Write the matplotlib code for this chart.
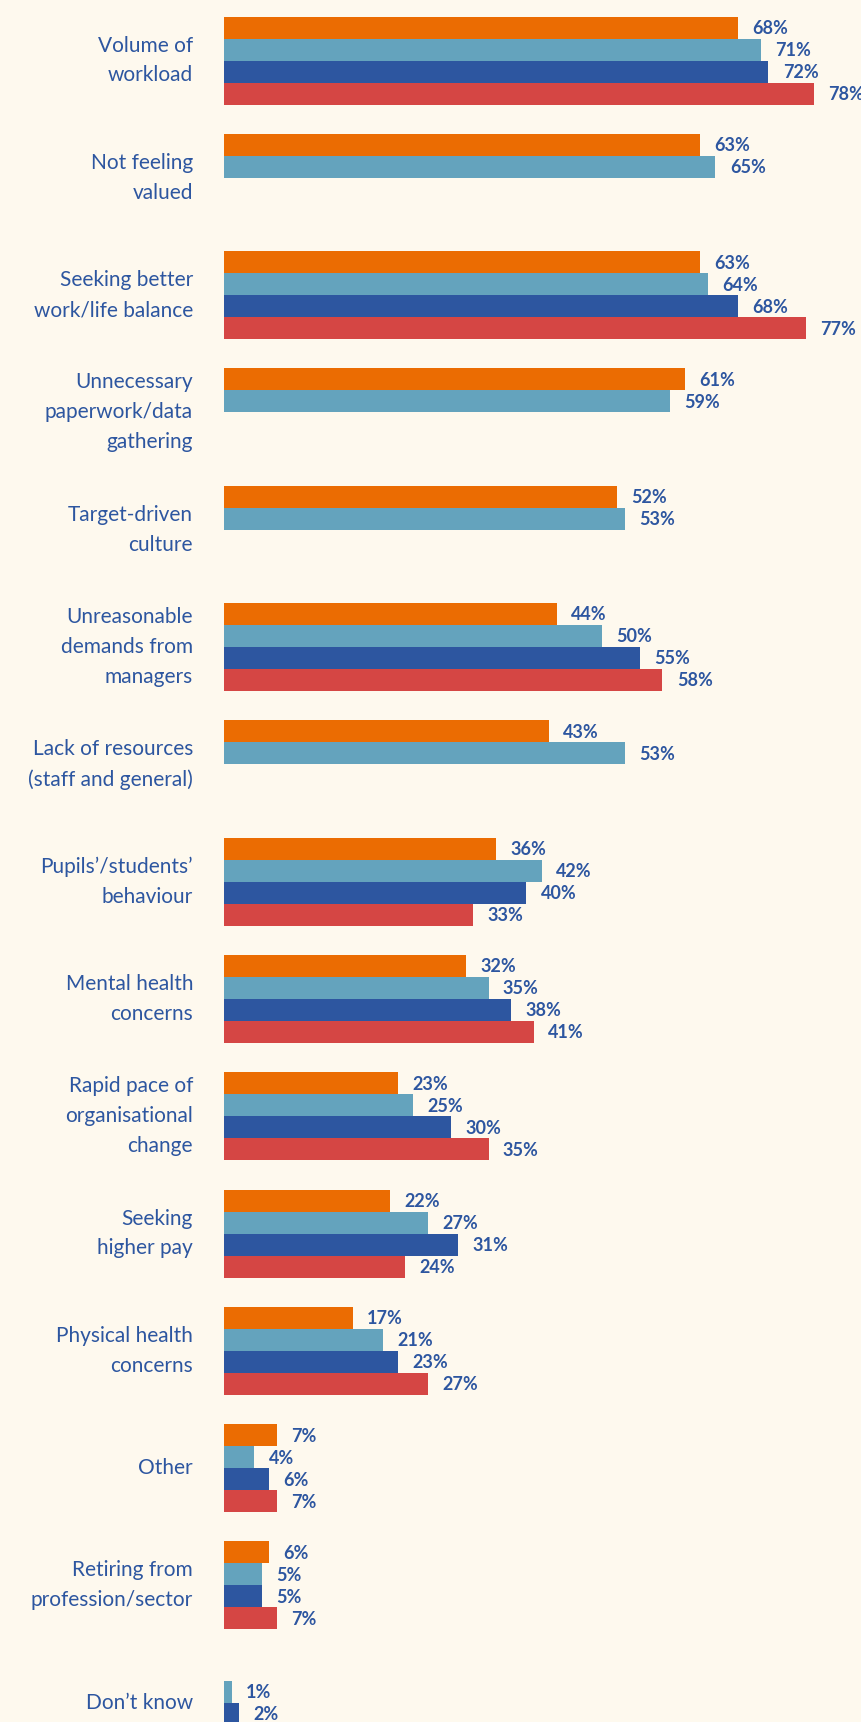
import matplotlib
matplotlib.use('Agg')
import matplotlib.pyplot as plt
import numpy as np

# Data (percent), series in drawing order top -> bottom within each group
categories = [
    "Volume of\nworkload",
    "Not feeling\nvalued",
    "Seeking better\nwork/life balance",
    "Unnecessary\npaperwork/data\ngathering",
    "Target-driven\nculture",
    "Unreasonable\ndemands from\nmanagers",
    "Lack of resources\n(staff and general)",
    "Pupils\u2019/students\u2019\nbehaviour",
    "Mental health\nconcerns",
    "Rapid pace of\norganisational\nchange",
    "Seeking\nhigher pay",
    "Physical health\nconcerns",
    "Other",
    "Retiring from\nprofession/sector",
    "Don\u2019t know",
]
nan = np.nan
series_orange = [68, 63, 63, 61, 52, 44, 43, 36, 32, 23, 22, 17, 7, 6, nan]
series_lightblue = [71, 65, 64, 59, 53, 50, 53, 42, 35, 25, 27, 21, 4, 5, 1]
series_darkblue = [72, nan, 68, nan, nan, 55, nan, 40, 38, 30, 31, 23, 6, 5, 2]
series_red = [78, nan, 77, nan, nan, 58, nan, 33, 41, 35, 24, 27, 7, 7, nan]

all_series = [series_orange, series_lightblue, series_darkblue, series_red]
colors = ['#EB6C02', '#64A3BD', '#2D56A0', '#D54644']
bg = '#FEF9EE'
text_color = '#2D56A0'

# Layout (pixel units, figure is 862x1722 at dpi 100)
W, H = 862, 1722
bar_h = 22
group_step = 117.3
first_top = 16.5
x0_px = 224
px_per_pct = 7.56

fig = plt.figure(figsize=(W / 100, H / 100), dpi=100)
fig.patch.set_facecolor(bg)
ax = fig.add_axes([0, 0, 1, 1])
ax.set_facecolor(bg)
ax.set_xlim(-x0_px / px_per_pct, (W - x0_px) / px_per_pct)
ax.set_ylim(H, 0)
ax.axis('off')

font = 'Lato'
for i, cat in enumerate(categories):
    top = first_top + group_step * i
    for j, (vals, c) in enumerate(zip(all_series, colors)):
        v = vals[i]
        if np.isnan(v):
            continue
        yc = top + bar_h * j + bar_h / 2
        ax.barh(yc, v, height=bar_h, left=0, color=c, linewidth=0)
        ax.text(v + 1.9, yc + 1, f"{int(v)}%", ha='left', va='center',
                fontsize=13, fontweight='bold', color=text_color, family=font)
    center = top + bar_h * 2
    ax.text(-4.1, center, cat, ha='right', va='center', fontsize=15,
            color=text_color, family=font, linespacing=1.62)

fig.savefig('out.png', dpi=100, facecolor=bg)
